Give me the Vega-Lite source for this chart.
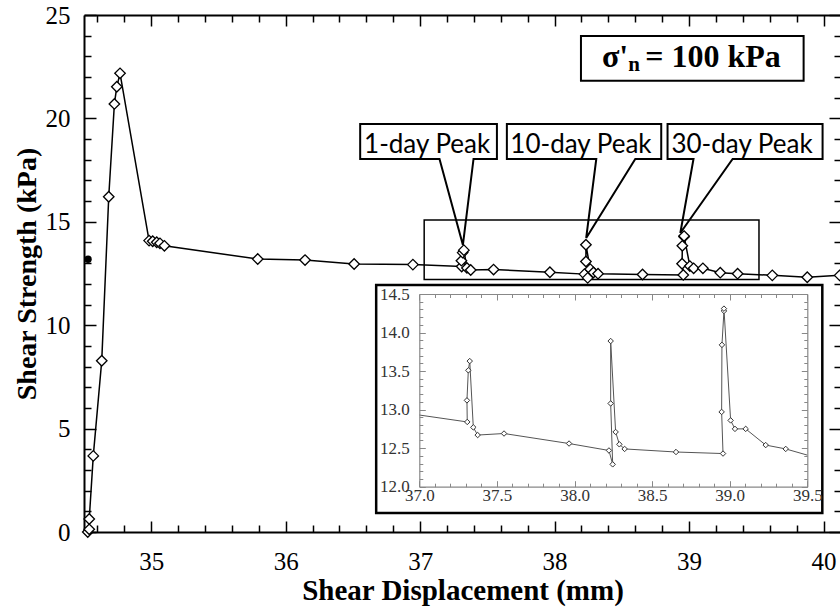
{
  "$schema": "https://vega.github.io/schema/vega-lite/v6.json",
  "width": 757,
  "height": 517,
  "autosize": {"type": "none"},
  "padding": {"left": 84, "top": 15, "right": 0, "bottom": 80},
  "background": "white",
  "config": {"view": {"stroke": null}, "font": "Liberation Serif", "axis": {"labelFont": "Liberation Serif", "titleFont": "Liberation Serif"}},
  "datasets": {
    "main": [
      {"i": 0, "x": 34.528, "y": 0.0},
      {"i": 1, "x": 34.539, "y": 0.13},
      {"i": 2, "x": 34.539, "y": 0.63},
      {"i": 3, "x": 34.569, "y": 3.68},
      {"i": 4, "x": 34.632, "y": 8.28},
      {"i": 5, "x": 34.684, "y": 16.21},
      {"i": 6, "x": 34.726, "y": 20.7},
      {"i": 7, "x": 34.744, "y": 21.53},
      {"i": 8, "x": 34.768, "y": 22.18},
      {"i": 9, "x": 34.984, "y": 14.09},
      {"i": 10, "x": 35.011, "y": 14.06},
      {"i": 11, "x": 35.041, "y": 14.01},
      {"i": 12, "x": 35.065, "y": 13.96},
      {"i": 13, "x": 35.098, "y": 13.84},
      {"i": 14, "x": 35.792, "y": 13.2},
      {"i": 15, "x": 36.144, "y": 13.15},
      {"i": 16, "x": 36.509, "y": 12.96},
      {"i": 17, "x": 36.946, "y": 12.93},
      {"i": 18, "x": 37.309, "y": 12.84},
      {"i": 19, "x": 37.307, "y": 13.12},
      {"i": 20, "x": 37.316, "y": 13.51},
      {"i": 21, "x": 37.325, "y": 13.63},
      {"i": 22, "x": 37.348, "y": 12.77},
      {"i": 23, "x": 37.376, "y": 12.67},
      {"i": 24, "x": 37.546, "y": 12.69},
      {"i": 25, "x": 37.965, "y": 12.56},
      {"i": 26, "x": 38.222, "y": 12.47},
      {"i": 27, "x": 38.246, "y": 12.29},
      {"i": 28, "x": 38.233, "y": 13.08},
      {"i": 29, "x": 38.233, "y": 13.89},
      {"i": 30, "x": 38.265, "y": 12.71},
      {"i": 31, "x": 38.289, "y": 12.55},
      {"i": 32, "x": 38.323, "y": 12.49},
      {"i": 33, "x": 38.654, "y": 12.45},
      {"i": 34, "x": 38.957, "y": 12.43},
      {"i": 35, "x": 38.948, "y": 12.97},
      {"i": 36, "x": 38.95, "y": 13.84},
      {"i": 37, "x": 38.963, "y": 14.28},
      {"i": 38, "x": 38.963, "y": 14.31},
      {"i": 39, "x": 39.006, "y": 12.86},
      {"i": 40, "x": 39.034, "y": 12.75},
      {"i": 41, "x": 39.103, "y": 12.75},
      {"i": 42, "x": 39.232, "y": 12.54},
      {"i": 43, "x": 39.361, "y": 12.49},
      {"i": 44, "x": 39.619, "y": 12.41},
      {"i": 45, "x": 39.879, "y": 12.32},
      {"i": 46, "x": 40.12, "y": 12.41}
    ],
    "dot": [{"x": 34.53, "y": 13.19}],
    "region": [{"x1": 37.03, "x2": 39.52, "y1": 12.21, "y2": 15.09}],
    "insetbox": [{"x1": 36.673, "x2": 39.991, "y1": 0.92, "y2": 11.94}],
    "sigmabox": [{"x1": 38.196, "x2": 39.852, "y1": 21.82, "y2": 23.98}],
    "callouts": [
      {"c": "a", "k": 0, "x": 36.554, "y": 19.73},
      {"c": "a", "k": 1, "x": 37.571, "y": 19.73},
      {"c": "a", "k": 2, "x": 37.571, "y": 18.04},
      {"c": "a", "k": 3, "x": 37.397, "y": 18.04},
      {"c": "a", "k": 4, "x": 37.318, "y": 13.88},
      {"c": "a", "k": 5, "x": 37.144, "y": 18.04},
      {"c": "a", "k": 6, "x": 36.554, "y": 18.04},
      {"c": "a", "k": 7, "x": 36.554, "y": 19.73},
      {"c": "b", "k": 0, "x": 37.645, "y": 19.73},
      {"c": "b", "k": 1, "x": 38.793, "y": 19.73},
      {"c": "b", "k": 2, "x": 38.793, "y": 18.04},
      {"c": "b", "k": 3, "x": 38.6, "y": 18.04},
      {"c": "b", "k": 4, "x": 38.235, "y": 14.22},
      {"c": "b", "k": 5, "x": 38.31, "y": 18.04},
      {"c": "b", "k": 6, "x": 37.645, "y": 18.04},
      {"c": "b", "k": 7, "x": 37.645, "y": 19.73},
      {"c": "c", "k": 0, "x": 38.84, "y": 19.73},
      {"c": "c", "k": 1, "x": 39.993, "y": 19.73},
      {"c": "c", "k": 2, "x": 39.993, "y": 18.04},
      {"c": "c", "k": 3, "x": 39.324, "y": 18.04},
      {"c": "c", "k": 4, "x": 38.935, "y": 14.46},
      {"c": "c", "k": 5, "x": 39.033, "y": 18.04},
      {"c": "c", "k": 6, "x": 38.84, "y": 18.04},
      {"c": "c", "k": 7, "x": 38.84, "y": 19.73}
    ],
    "calloutText": [
      {"x": 37.052, "y": 18.34, "t": "1-day Peak"},
      {"x": 38.196, "y": 18.34, "t": "10-day Peak"},
      {"x": 39.394, "y": 18.34, "t": "30-day Peak"}
    ],
    "sigmaMain": [
      {"x": 38.352, "y": 22.5, "t": "σ'"},
      {"x": 38.674, "y": 22.5, "t": "= 100 kPa"}
    ],
    "sigmaSub": [{"x": 38.547, "y": 22.31, "t": "n"}]
  },
  "layer": [
    {
      "layer": [
        {
          "data": {"name": "region"},
          "mark": {"type": "rect", "filled": false, "color": "black", "strokeWidth": 1.5},
          "encoding": {
            "x": {"field": "x1", "type": "quantitative",
              "scale": {"domain": [34.5, 40.13], "nice": false, "zero": false},
              "axis": {"orient": "bottom",
                "values": [35, 36, 37, 38, 39, 40],
                "format": "d",
                "labelOverlap": false, "labelFlush": false,
                "tickSize": -11,
                "tickColor": "black", "tickWidth": 1.5,
                "domainColor": "black", "domainWidth": 2,
                "labelFont": "Liberation Serif", "labelFontSize": 25, "labelColor": "black", "labelPadding": 28,
                "grid": false,
                "title": "Shear Displacement (mm)", "titleFont": "Liberation Serif", "titleFontSize": 29,
                "titleFontWeight": "bold", "titleColor": "black", "titlePadding": 2}},
            "x2": {"field": "x2"},
            "y": {"field": "y1", "type": "quantitative",
              "scale": {"domain": [0, 25], "nice": false, "zero": false},
              "axis": {"orient": "left",
                "values": [0, 5, 10, 15, 20, 25],
                "format": "d",
                "labelOverlap": false, "labelFlush": false,
                "tickSize": -12,
                "tickColor": "black", "tickWidth": 1.5,
                "domainColor": "black", "domainWidth": 2,
                "labelFont": "Liberation Serif", "labelFontSize": 25, "labelColor": "black", "labelPadding": 26,
                "grid": false,
                "title": "Shear Strength (kPa)", "titleFont": "Liberation Serif", "titleFontSize": 28,
                "titleFontWeight": "bold", "titleColor": "black", "titlePadding": 4}},
            "y2": {"field": "y2"}
          }
        },
        {
          "data": {"name": "insetbox"},
          "mark": {"type": "rect", "fill": "white", "stroke": "black", "strokeWidth": 2.5},
          "encoding": {
            "x": {"field": "x1", "type": "quantitative"}, "x2": {"field": "x2"},
            "y": {"field": "y1", "type": "quantitative"}, "y2": {"field": "y2"}
          }
        },
        {
          "data": {"name": "main"},
          "mark": {"type": "line", "color": "black", "strokeWidth": 1.5},
          "encoding": {
            "x": {"field": "x", "type": "quantitative"},
            "y": {"field": "y", "type": "quantitative"},
            "order": {"field": "i", "type": "quantitative"}
          }
        },
        {
          "data": {"name": "main"},
          "mark": {"type": "point", "shape": "diamond", "size": 110, "filled": true, "fill": "white", "stroke": "black", "strokeWidth": 1.3, "opacity": 1},
          "encoding": {
            "x": {"field": "x", "type": "quantitative"},
            "y": {"field": "y", "type": "quantitative"}
          }
        },
        {
          "data": {"name": "dot"},
          "mark": {"type": "point", "shape": "circle", "size": 55, "filled": true, "color": "black", "opacity": 1},
          "encoding": {
            "x": {"field": "x", "type": "quantitative"},
            "y": {"field": "y", "type": "quantitative"}
          }
        },
        {
          "data": {"name": "callouts"},
          "mark": {"type": "line", "color": "black", "strokeWidth": 2, "strokeJoin": "miter", "strokeCap": "square"},
          "encoding": {
            "x": {"field": "x", "type": "quantitative"},
            "y": {"field": "y", "type": "quantitative"},
            "detail": {"field": "c"},
            "order": {"field": "k", "type": "quantitative"}
          }
        },
        {
          "data": {"name": "calloutText"},
          "mark": {"type": "text", "font": "Lato", "fontSize": 26, "align": "center", "baseline": "alphabetic", "color": "black"},
          "encoding": {
            "x": {"field": "x", "type": "quantitative"},
            "y": {"field": "y", "type": "quantitative"},
            "text": {"field": "t"}
          }
        },
        {
          "data": {"name": "sigmabox"},
          "mark": {"type": "rect", "fill": "white", "stroke": "black", "strokeWidth": 2},
          "encoding": {
            "x": {"field": "x1", "type": "quantitative"}, "x2": {"field": "x2"},
            "y": {"field": "y1", "type": "quantitative"}, "y2": {"field": "y2"}
          }
        },
        {
          "data": {"name": "sigmaMain"},
          "mark": {"type": "text", "font": "Liberation Serif", "fontWeight": "bold", "fontSize": 32, "align": "left", "baseline": "alphabetic", "color": "black"},
          "encoding": {
            "x": {"field": "x", "type": "quantitative"},
            "y": {"field": "y", "type": "quantitative"},
            "text": {"field": "t"}
          }
        },
        {
          "data": {"name": "sigmaSub"},
          "mark": {"type": "text", "font": "Liberation Serif", "fontWeight": "bold", "fontSize": 21, "align": "left", "baseline": "alphabetic", "color": "black"},
          "encoding": {
            "x": {"field": "x", "type": "quantitative"},
            "y": {"field": "y", "type": "quantitative"},
            "text": {"field": "t"}
          }
        }
      ]
    },
    {
      "data": {"name": "dot"},
      "mark": {"type": "point", "opacity": 0},
      "encoding": {
        "x": {"field": "x", "type": "quantitative",
          "scale": {"domain": [34.5, 40.13], "nice": false, "zero": false},
          "axis": {"orient": "top",
            "values": [34.6,34.8,35,35.2,35.4,35.6,35.8,36,36.2,36.4,36.6,36.8,37,37.2,37.4,37.6,37.8,38,38.2,38.4,38.6,38.8,39,39.2,39.4,39.6,39.8,40],
            "labels": false,
            "tickSize": {"condition": {"test": "datum.value % 1 === 0", "value": -11}, "value": -7},
            "tickColor": "black", "tickWidth": 1.5,
            "domainColor": "black", "domainWidth": 2, "grid": false, "title": null}},
        "y": {"field": "y", "type": "quantitative",
          "scale": {"domain": [0, 25], "nice": false, "zero": false},
          "axis": {"orient": "right",
            "values": [0,1,2,3,4,5,6,7,8,9,10,11,12,13,14,15,16,17,18,19,20,21,22,23,24,25],
            "labels": false,
            "tickSize": {"condition": {"test": "datum.value % 5 === 0", "value": -12}, "value": -7},
            "tickColor": "black", "tickWidth": 1.5,
            "domainColor": "black", "domainWidth": 2, "grid": false, "title": null}}
      }
    },
    {
      "data": {"name": "dot"},
      "mark": {"type": "point", "opacity": 0},
      "encoding": {
        "x": {"field": "x", "type": "quantitative",
          "scale": {"domain": [34.5, 40.13], "nice": false, "zero": false},
          "axis": {"orient": "bottom",
            "values": [34.6,34.8,35.2,35.4,35.6,35.8,36.2,36.4,36.6,36.8,37.2,37.4,37.6,37.8,38.2,38.4,38.6,38.8,39.2,39.4,39.6,39.8],
            "labels": false, "domain": false,
            "tickSize": -7, "tickColor": "black", "tickWidth": 1.5,
            "grid": false, "title": null}},
        "y": {"field": "y", "type": "quantitative",
          "scale": {"domain": [0, 25], "nice": false, "zero": false},
          "axis": {"orient": "left",
            "values": [1,2,3,4,6,7,8,9,11,12,13,14,16,17,18,19,21,22,23,24],
            "labels": false, "domain": false,
            "tickSize": -7, "tickColor": "black", "tickWidth": 1.5,
            "grid": false, "title": null}}
      }
    },
    {
      "data": {"name": "main"},
      "layer": [
        {
          "transform": [{"filter": "datum.x >= 36.9 && datum.x <= 39.7"}],
          "mark": {"type": "line", "color": "#555555", "strokeWidth": 1},
          "encoding": {
            "x": {"field": "x", "type": "quantitative",
              "scale": {"domain": [37, 39.5], "range": [335.3, 723.3], "clamp": true, "nice": false, "zero": false},
              "axis": {"orient": "bottom", "offset": -45.3,
                "values": [37, 37.5, 38, 38.5, 39, 39.5],
                "format": ".1f",
                "labelOverlap": false, "labelFlush": false,
                "tickSize": -6,
                "tickColor": "#888888", "tickWidth": 1,
                "domainColor": "#888888", "domainWidth": 1.2,
                "labelFont": "Liberation Serif", "labelFontSize": 17, "labelColor": "#333333", "labelPadding": 7,
                "grid": false, "title": null, "zindex": 1}},
            "y": {"field": "y", "type": "quantitative",
              "scale": {"domain": [12, 14.5], "range": [471.7, 279], "nice": false, "zero": false},
              "axis": {"orient": "left", "offset": -335.3,
                "values": [12, 12.5, 13, 13.5, 14, 14.5],
                "format": ".1f",
                "labelOverlap": false, "labelFlush": false,
                "tickSize": -6,
                "tickColor": "#888888", "tickWidth": 1,
                "domainColor": "#888888", "domainWidth": 1.2,
                "labelFont": "Liberation Serif", "labelFontSize": 17, "labelColor": "#333333", "labelPadding": 16,
                "grid": false, "title": null, "zindex": 1}},
            "order": {"field": "i", "type": "quantitative"}
          }
        },
        {
          "transform": [{"filter": "datum.x >= 37 && datum.x <= 39.5"}],
          "mark": {"type": "point", "shape": "diamond", "size": 30, "filled": true, "fill": "white", "stroke": "#333333", "strokeWidth": 1, "opacity": 1},
          "encoding": {
            "x": {"field": "x", "type": "quantitative"},
            "y": {"field": "y", "type": "quantitative"}
          }
        }
      ]
    },
    {
      "data": {"name": "dot"},
      "mark": {"type": "point", "opacity": 0},
      "encoding": {
        "x": {"field": "x", "type": "quantitative",
          "scale": {"domain": [37, 39.5], "range": [335.3, 723.3], "clamp": true, "nice": false, "zero": false},
          "axis": {"orient": "top", "offset": -279,
            "values": [37,37.1,37.2,37.3,37.4,37.5,37.6,37.7,37.8,37.9,38,38.1,38.2,38.3,38.4,38.5,38.6,38.7,38.8,38.9,39,39.1,39.2,39.3,39.4,39.5],
            "labels": false,
            "tickSize": {"condition": {"test": "abs(datum.value*2 - round(datum.value*2)) < 0.001", "value": -6}, "value": -3.5},
            "tickColor": "#888888", "tickWidth": 1,
            "domainColor": "#888888", "domainWidth": 1.2, "grid": false, "title": null, "zindex": 1}},
        "y": {"field": "y", "type": "quantitative",
          "scale": {"domain": [12, 14.5], "range": [471.7, 279], "clamp": true, "nice": false, "zero": false},
          "axis": {"orient": "right", "offset": -33.7,
            "values": [12,12.1,12.2,12.3,12.4,12.5,12.6,12.7,12.8,12.9,13,13.1,13.2,13.3,13.4,13.5,13.6,13.7,13.8,13.9,14,14.1,14.2,14.3,14.4,14.5],
            "labels": false,
            "tickSize": {"condition": {"test": "abs(datum.value*2 - round(datum.value*2)) < 0.001", "value": -6}, "value": -3.5},
            "tickColor": "#888888", "tickWidth": 1,
            "domainColor": "#888888", "domainWidth": 1.2, "grid": false, "title": null, "zindex": 1}}
      }
    },
    {
      "data": {"name": "dot"},
      "mark": {"type": "point", "opacity": 0},
      "encoding": {
        "x": {"field": "x", "type": "quantitative",
          "scale": {"domain": [37, 39.5], "range": [335.3, 723.3], "clamp": true, "nice": false, "zero": false},
          "axis": {"orient": "bottom", "offset": -45.3,
            "values": [37.1,37.2,37.3,37.4,37.6,37.7,37.8,37.9,38.1,38.2,38.3,38.4,38.6,38.7,38.8,38.9,39.1,39.2,39.3,39.4],
            "labels": false, "domain": false,
            "tickSize": -3.5, "tickColor": "#888888", "tickWidth": 1,
            "grid": false, "title": null, "zindex": 1}},
        "y": {"field": "y", "type": "quantitative",
          "scale": {"domain": [12, 14.5], "range": [471.7, 279], "clamp": true, "nice": false, "zero": false},
          "axis": {"orient": "left", "offset": -335.3,
            "values": [12.1,12.2,12.3,12.4,12.6,12.7,12.8,12.9,13.1,13.2,13.3,13.4,13.6,13.7,13.8,13.9,14.1,14.2,14.3,14.4],
            "labels": false, "domain": false,
            "tickSize": -3.5, "tickColor": "#888888", "tickWidth": 1,
            "grid": false, "title": null, "zindex": 1}}
      }
    }
  ],
  "resolve": {"scale": {"x": "independent", "y": "independent"}}
}
